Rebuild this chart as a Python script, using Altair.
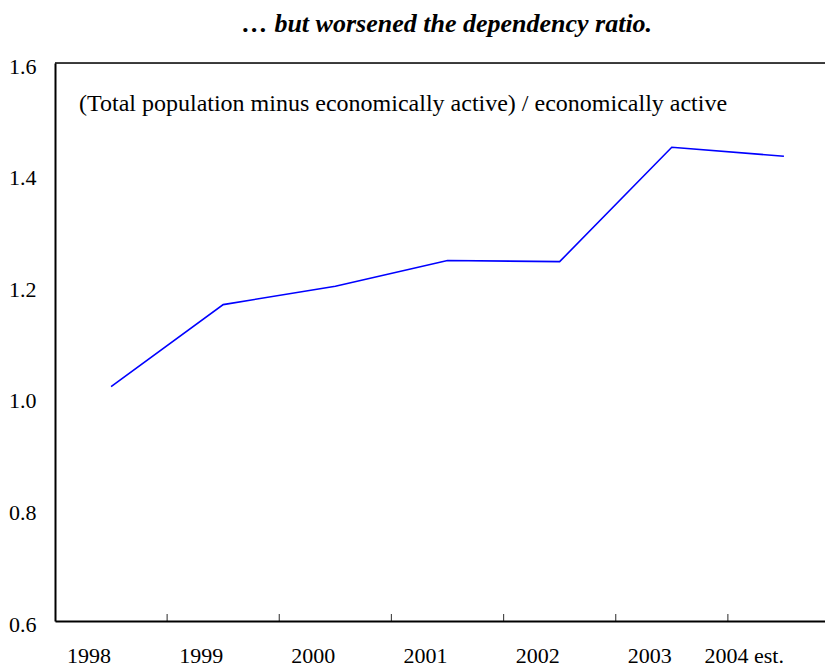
import altair as alt
import pandas as pd

years = ["1998", "1999", "2000", "2001", "2002", "2003", "2004 est."]
ratio = [1.020, 1.167, 1.200, 1.246, 1.244, 1.449, 1.433]

title_text = "\u2026 but worsened the dependency ratio."
note_text = "(Total population minus economically active) / economically active"

df = pd.DataFrame({"year": years, "ratio": ratio})
tick_df = pd.DataFrame({"year": years[:-1]})
note_df = pd.DataFrame({"label": [note_text]})

FONT = "Times New Roman, Liberation Serif, serif"

xscale = alt.Scale(type="band", domain=years, range=[0, 785], paddingInner=0, paddingOuter=0)
yscale = alt.Scale(domain=[0.6, 1.6], zero=False, nice=False)

line = alt.Chart(df).mark_line(color="#0000FF", strokeWidth=1.6).encode(
    x=alt.X("year:N", scale=xscale, sort=years,
            axis=alt.Axis(title=None, labelAngle=0, ticks=False, tickSize=0,
                          labelPadding=34, labelFont=FONT, labelFontSize=22,
                          labelColor="black", domainColor="black", domainWidth=2,
                          grid=False)),
    y=alt.Y("ratio:Q", scale=yscale,
            axis=alt.Axis(title=None, values=[0.6, 0.8, 1.0, 1.2, 1.4, 1.6], format=".1f",
                          ticks=False, tickSize=0, labelPadding=19, labelFont=FONT,
                          labelFontSize=22, labelColor="black", domainColor="black",
                          domainWidth=2, grid=False, labelOffset=3)),
)

ticks = alt.Chart(tick_df).mark_tick(orient="vertical", size=14, thickness=1.2,
                                     color="black", clip=True).encode(
    x=alt.X("year:N", scale=xscale, sort=years, bandPosition=1),
    y=alt.Y(datum=0.6),
)

top = alt.Chart(note_df).mark_rule(color="black", strokeWidth=1.6).encode(
    y=alt.Y(datum=1.6)
)

note = alt.Chart(note_df).mark_text(font=FONT, fontSize=24, align="left",
                                    baseline="middle", color="black").encode(
    text="label:N", x=alt.value(24), y=alt.value(41)
)

chart = alt.layer(top, ticks, line, note).properties(
    width=770, height=558,
    autosize=alt.AutoSizeParams(type="none"),
    padding={"left": 47, "top": 55, "right": 0, "bottom": 47},
    title=alt.TitleParams(title_text, font=FONT, fontSize=26, fontWeight="bold",
                          fontStyle="italic", anchor="middle", color="black",
                          offset=18, dx=7),
).configure_view(stroke=None).configure(background="white")

chart.save("out.html", embed_options={"renderer": "svg", "actions": False})
